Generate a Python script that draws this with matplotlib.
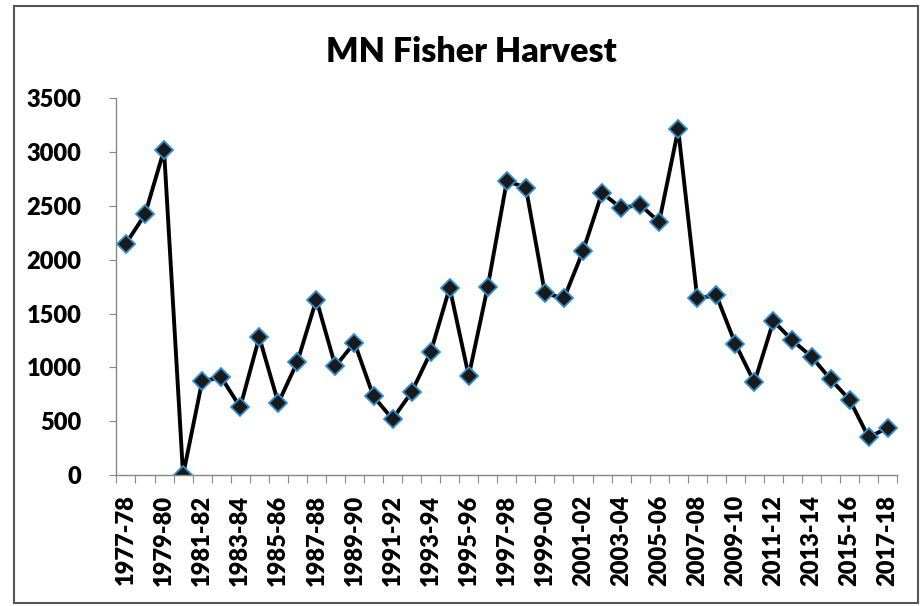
import numpy as np
import matplotlib.pyplot as plt
from matplotlib.patches import Rectangle

# Сезоны и добыча
seasons = [f"{y}-{str(y + 1)[-2:]}" for y in range(1977, 2018)]
harvest = [2150, 2420, 3020, 0, 870, 910, 630, 1280, 670, 1050,
           1630, 1010, 1230, 730, 520, 770, 1140, 1740, 920, 1750,
           2730, 2670, 1690, 1640, 2080, 2620, 2480, 2510, 2350, 3210,
           1640, 1670, 1220, 860, 1430, 1250, 1100, 890, 700, 350, 440]

plt.rcParams['font.family'] = ['Lato', 'DejaVu Sans']
plt.rcParams['font.weight'] = 'heavy'

fig = plt.figure(figsize=(9.24, 6.06), dpi=100)
ax = fig.add_axes([0.126, 0.216, 0.845, 0.622])

x = np.arange(len(seasons))
ax.plot(x, harvest, color='black', lw=2.8, marker='D', markersize=9,
        markerfacecolor='#1a1a1a', markeredgecolor='#2f8fd0', markeredgewidth=1.3)

ax.set_xlim(-0.5, len(seasons) - 0.5)
ax.set_ylim(0, 3500)
ax.set_yticks(range(0, 3501, 500))
ax.tick_params(axis='y', labelsize=17, length=5, color='#888888', pad=20)

# деления на границах категорий, подписи через одну
ax.set_xticks(np.arange(-0.5, len(seasons)), labels=[''] * (len(seasons) + 1))
ax.set_xticks(x[::2], labels=seasons[::2], minor=True)
ax.tick_params(axis='x', which='major', length=6, color='#888888')
ax.tick_params(axis='x', which='minor', length=0, labelsize=17, rotation=90, pad=14)

for s in ['top', 'right']:
    ax.spines[s].set_visible(False)
for s in ['left', 'bottom']:
    ax.spines[s].set_color('#888888')
    ax.spines[s].set_linewidth(1.0)

fig.text(0.51, 0.915, 'MN Fisher Harvest', ha='center', va='center',
         fontsize=24.5, fontweight='heavy')

fig.patches.append(Rectangle((0.015, 0.005), 0.978, 0.985, transform=fig.transFigure,
                             fill=False, edgecolor='#555555', lw=1.5))

plt.savefig('out.png', dpi=100)
